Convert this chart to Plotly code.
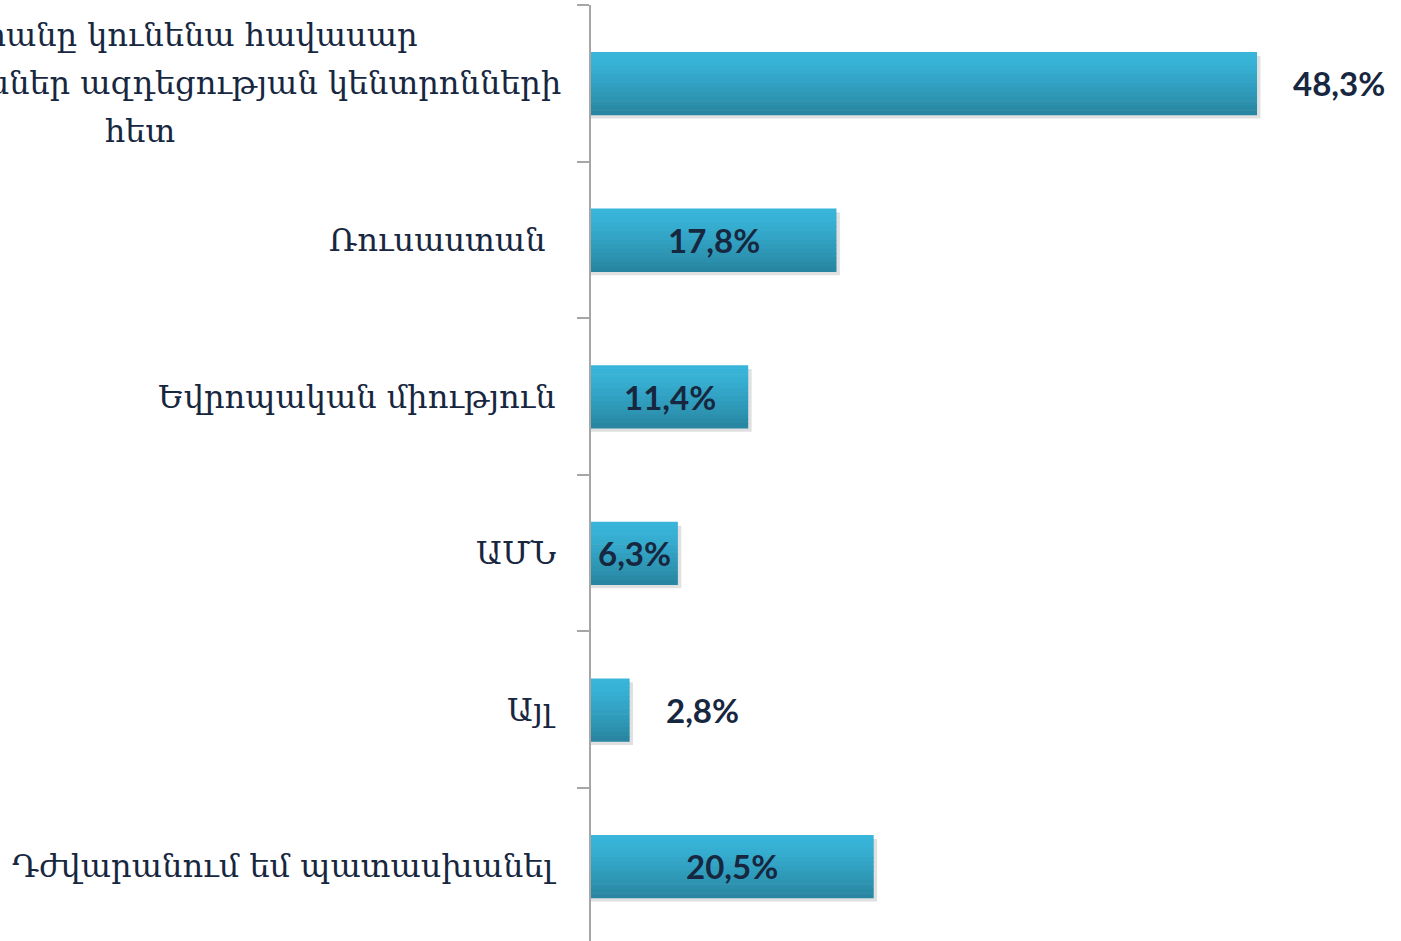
import plotly.graph_objects as go

categories = [
    "Հայաստանը կունենա հավասար<br>հարաբերություններ ազդեցության կենտրոնների<br>հետ",
    "Ռուսաստան\u00a0",
    "Եվրոպական միություն",
    "ԱՄՆ",
    "Այլ",
    "Դժվարանում եմ պատասխանել",
]
values = [48.3, 17.8, 11.4, 6.3, 2.8, 20.5]
value_labels = ["48,3%", "17,8%", "11,4%", "6,3%", "2,8%", "20,5%"]
label_outside = [True, False, False, False, True, False]

ids = list(range(len(categories)))
TEXT = "#17273f"
BAR_W = 0.40
N_STRIPS = 14
top_rgb = (56, 181, 217)
bot_rgb = (41, 134, 162)
PLOT_LEFT = 591
LINE_GAP = 48
MULTI_CENTER_PX = 140

fig = go.Figure()

# soft shadow
fig.add_trace(go.Bar(
    y=ids, x=[v + 0.25 for v in values], orientation="h",
    width=BAR_W, offset=-BAR_W / 2 + 0.025,
    marker=dict(color="rgba(0,0,0,0.12)", line=dict(width=0)),
    hoverinfo="skip", showlegend=False,
))

h = BAR_W / N_STRIPS
for i in range(N_STRIPS):
    t = (i / (N_STRIPS - 1)) ** 1.3
    c = tuple(round(top_rgb[k] + (bot_rgb[k] - top_rgb[k]) * t) for k in range(3))
    fig.add_trace(go.Bar(
        y=ids, x=values, orientation="h",
        width=h * 1.15, offset=-BAR_W / 2 + i * h,
        marker=dict(color="rgb(%d,%d,%d)" % c, line=dict(width=0)),
        hoverinfo="skip", showlegend=False,
    ))

cat_font = dict(family="DejaVu Serif", size=32, color=TEXT)
annotations = []
for i, (cat, v, lab, out) in enumerate(zip(categories, values, value_labels, label_outside)):
    lines = cat.split("<br>")
    if len(lines) == 1:
        annotations.append(dict(
            x=0, xref="paper", y=i, yref="y", text=cat, showarrow=False,
            xanchor="right", yanchor="middle", align="center", xshift=-33,
            font=cat_font,
        ))
    else:
        n = len(lines)
        for j, ln in enumerate(lines):
            annotations.append(dict(
                x=0, xref="paper", y=i, yref="y", text=ln, showarrow=False,
                xanchor="center", yanchor="middle",
                xshift=MULTI_CENTER_PX - PLOT_LEFT,
                yshift=((n - 1) / 2 - j) * LINE_GAP,
                font=cat_font,
            ))
    annotations.append(dict(
        x=v if out else v / 2, xref="x", y=i, yref="y", text=lab, showarrow=False,
        xanchor="left" if out else "center", yanchor="middle",
        xshift=34 if out else 0,
        font=dict(family="Lato", size=33, color=TEXT, weight="bold"),
    ))

fig.update_layout(
    width=1401, height=941,
    margin=dict(l=PLOT_LEFT, r=0, t=5, b=0),
    paper_bgcolor="white", plot_bgcolor="white",
    barmode="overlay",
    showlegend=False,
    annotations=annotations,
    xaxis=dict(range=[0, 58.74], visible=False, fixedrange=True),
    yaxis=dict(
        type="linear", range=[5.477, -0.5], fixedrange=True,
        showticklabels=False, showgrid=False, zeroline=False,
        showline=True, linecolor="#a6a6a6", linewidth=2,
        ticks="outside", ticklen=12, tickcolor="#a6a6a6", tickwidth=2,
        tickmode="array", tickvals=[i - 0.5 for i in range(len(categories) + 1)],
    ),
)

fig.write_html("out.html", config={"displayModeBar": False},
               post_script="document.body.style.margin='0';")
